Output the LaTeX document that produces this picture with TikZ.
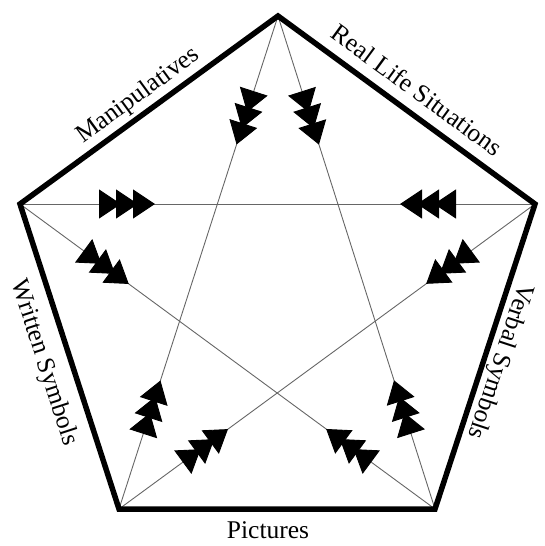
\documentclass[tikz,border=0pt]{standalone}
\usepackage{fontspec}
\setmainfont{Liberation Serif}
\usetikzlibrary{arrows.meta,decorations.markings,calc}
\tikzset{
  onetri/.tip={Triangle[length=22pt,width=29pt,color=black,sep=-5pt]},
  triple/.tip={onetri[] onetri[] Triangle[length=22pt,width=29pt,color=black]},
}
\begin{document}
\begin{tikzpicture}[x=1pt,y=-1pt,
  pentedge/.style={line width=5.5pt, line join=miter, draw=black},
  ray/.style={draw=black!60, line width=0.9pt, postaction={decorate},
    decoration={markings,
      mark=at position 135pt with {\arrow{triple}},
      mark=at position -135pt with {\arrowreversed{triple}}}},
  lab/.style={font=\fontsize{25.5}{30}\selectfont, inner sep=0pt, text height=17pt, text depth=0pt}]
\useasboundingbox (0,0) rectangle (545,546);
\coordinate (T) at (278,16);
\coordinate (R) at (535,204);
\coordinate (BR) at (435,509);
\coordinate (BL) at (119,509);
\coordinate (L) at (20,204);
\draw[ray] (T) -- (BL);
\draw[ray] (T) -- (BR);
\draw[ray] (L) -- (R);
\draw[ray] (L) -- (BR);
\draw[ray] (R) -- (BL);
\draw[pentedge] (T) -- (R) -- (BR) -- (BL) -- (L) -- cycle;
\node[lab, rotate=36.1] (man) at (137,94) {Manipulatives};
\node[lab, rotate=-36.2] (real) at (417,90) {Real Life Situations};
\node[lab, rotate=-72.0] (writ) at (46,362) {Written Symbols};
\node[lab, rotate=-108.2] (verb) at (502,362) {Verbal Symbols};
\node[lab] (pic) at (268,530) {Pictures};
\end{tikzpicture}
\end{document}
